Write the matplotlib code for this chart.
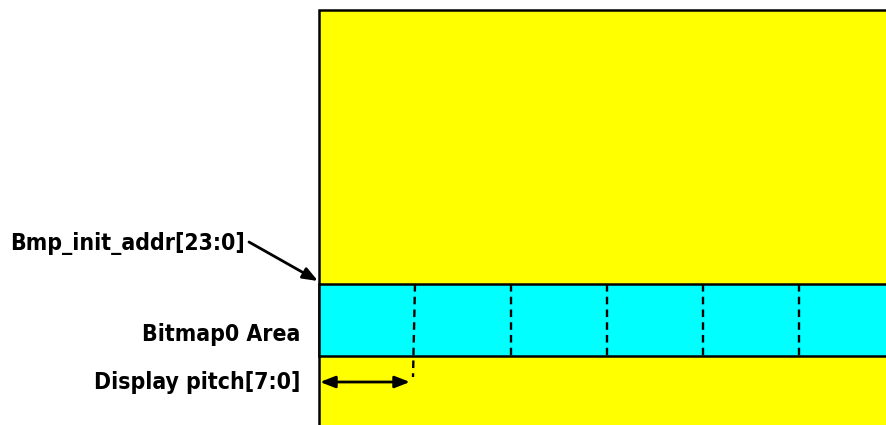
import matplotlib
matplotlib.use("Agg")
import matplotlib.pyplot as plt
from matplotlib.patches import Rectangle

# layout of the memory picture (pixel coordinates)
labels = ["Bmp_init_addr[23:0]", "Bitmap0 Area", "Display pitch[7:0]"]
dash_x = [415, 511, 607, 703, 799]
mem_left, mem_top = 319, 10
band_top, band_bottom = 284, 356

fig = plt.figure(figsize=(8.86, 4.25), dpi=100)
ax = fig.add_axes([0, 0, 1, 1])
ax.set_xlim(0, 886)
ax.set_ylim(425, 0)
ax.axis("off")

fam = ["DejaVu Sans"]

# yellow memory block
ax.add_patch(Rectangle((mem_left, mem_top), 900 - mem_left, 450 - mem_top,
                       facecolor="#ffff00", edgecolor="black", linewidth=1.8))
# cyan bitmap area
ax.add_patch(Rectangle((mem_left, band_top), 900 - mem_left, band_bottom - band_top,
                       facecolor="#00ffff", edgecolor="black", linewidth=1.8))

# dashed pitch separators
for i, x in enumerate(dash_x):
    bottom = 377 if i == 0 else band_bottom
    ax.plot([x, x - (2 if i == 0 else 0)], [band_top, bottom], color="black",
            linestyle=(0, (3.2, 2.2)), linewidth=1.7)

# pointer arrow to start address
ax.annotate("", xy=(318, 281), xytext=(249, 242),
            arrowprops=dict(arrowstyle="-|>,head_length=0.9,head_width=0.35",
                            color="black", lw=2, shrinkA=0, shrinkB=0))
# pitch double arrow
ax.annotate("", xy=(410, 382), xytext=(320, 382),
            arrowprops=dict(arrowstyle="<|-|>,head_length=0.9,head_width=0.35",
                            color="black", lw=2, shrinkA=0, shrinkB=0))

kw = dict(va="center", fontsize=16.5, fontweight="bold", family=fam,
          fontstretch="condensed")
ax.text(10, 243, labels[0], ha="left", **kw)
ax.text(300, 335, labels[1], ha="right", **kw)
ax.text(300, 382, labels[2], ha="right", **kw)

fig.savefig("out.png", dpi=100)
